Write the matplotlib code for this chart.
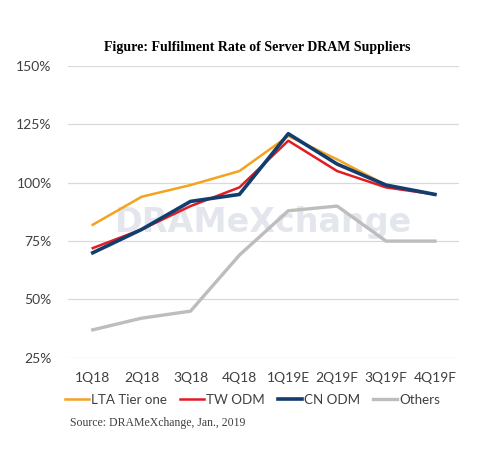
import matplotlib
matplotlib.use('Agg')
import matplotlib.pyplot as plt
import numpy as np

quarters = ['1Q18', '2Q18', '3Q18', '4Q18', '1Q19E', '2Q19F', '3Q19F', '4Q19F']
lta_tier_one = [82, 94, 99, 105, 120, 110, 99, 95]
tw_odm = [72, 80, 90, 98, 118, 105, 98, 95]
cn_odm = [70, 80, 92, 95, 121, 108, 99, 95]
others = [37, 42, 45, 69, 88, 90, 75, 75]

plt.rcParams['font.family'] = ['Lato', 'DejaVu Sans']

fig = plt.figure(figsize=(4.95, 4.49), dpi=100)
ax = fig.add_axes([0.138, 0.203, 0.79, 0.650])

x = np.arange(len(quarters))
ax.plot(x, lta_tier_one, color='#F5A31E', lw=1.8, label='LTA Tier one', zorder=3)
ax.plot(x, tw_odm, color='#E31B23', lw=1.8, label='TW ODM', zorder=4)
ax.plot(x, cn_odm, color='#123D6E', lw=2.6, label='CN ODM', zorder=5)
ax.plot(x, others, color='#BDBDBD', lw=2.4, label='Others', zorder=2)

# faded watermark
ax.text(0.5, 0.465, 'DRAMeXchange', transform=ax.transAxes, ha='center', va='center',
        fontsize=24, fontweight='bold', family='DejaVu Sans', color='#B3BAD0',
        alpha=0.35, zorder=1)

ax.set_xlim(-0.5, 7.5)
ax.set_ylim(25, 150)
ax.set_yticks([25, 50, 75, 100, 125, 150])
ax.set_yticklabels(['%d%%' % v for v in [25, 50, 75, 100, 125, 150]])
ax.set_xticks(x)
ax.set_xticklabels(quarters)
ax.grid(axis='y', color='#D9D9D9', lw=0.9)
ax.tick_params(length=0, labelsize=10, colors='#404040', pad=10)
ax.tick_params(axis='y', pad=12)
for s in ax.spines.values():
    s.set_visible(False)

fig.text(0.52, 0.895, 'Figure: Fulfilment Rate of Server DRAM Suppliers', ha='center',
         va='center', fontsize=10, fontweight='bold', family='Liberation Serif')

fig.legend(*ax.get_legend_handles_labels(), loc='center', bbox_to_anchor=(0.51, 0.109),
           ncol=4, frameon=False, fontsize=9.6, handlelength=1.8, handletextpad=0.15,
           columnspacing=1.0, labelcolor='#404040')

fig.text(0.142, 0.058, 'Source: DRAMeXchange, Jan., 2019', fontsize=8.5,
         family='Liberation Serif', color='#404040', va='center')

fig.savefig('out.png', dpi=100)
